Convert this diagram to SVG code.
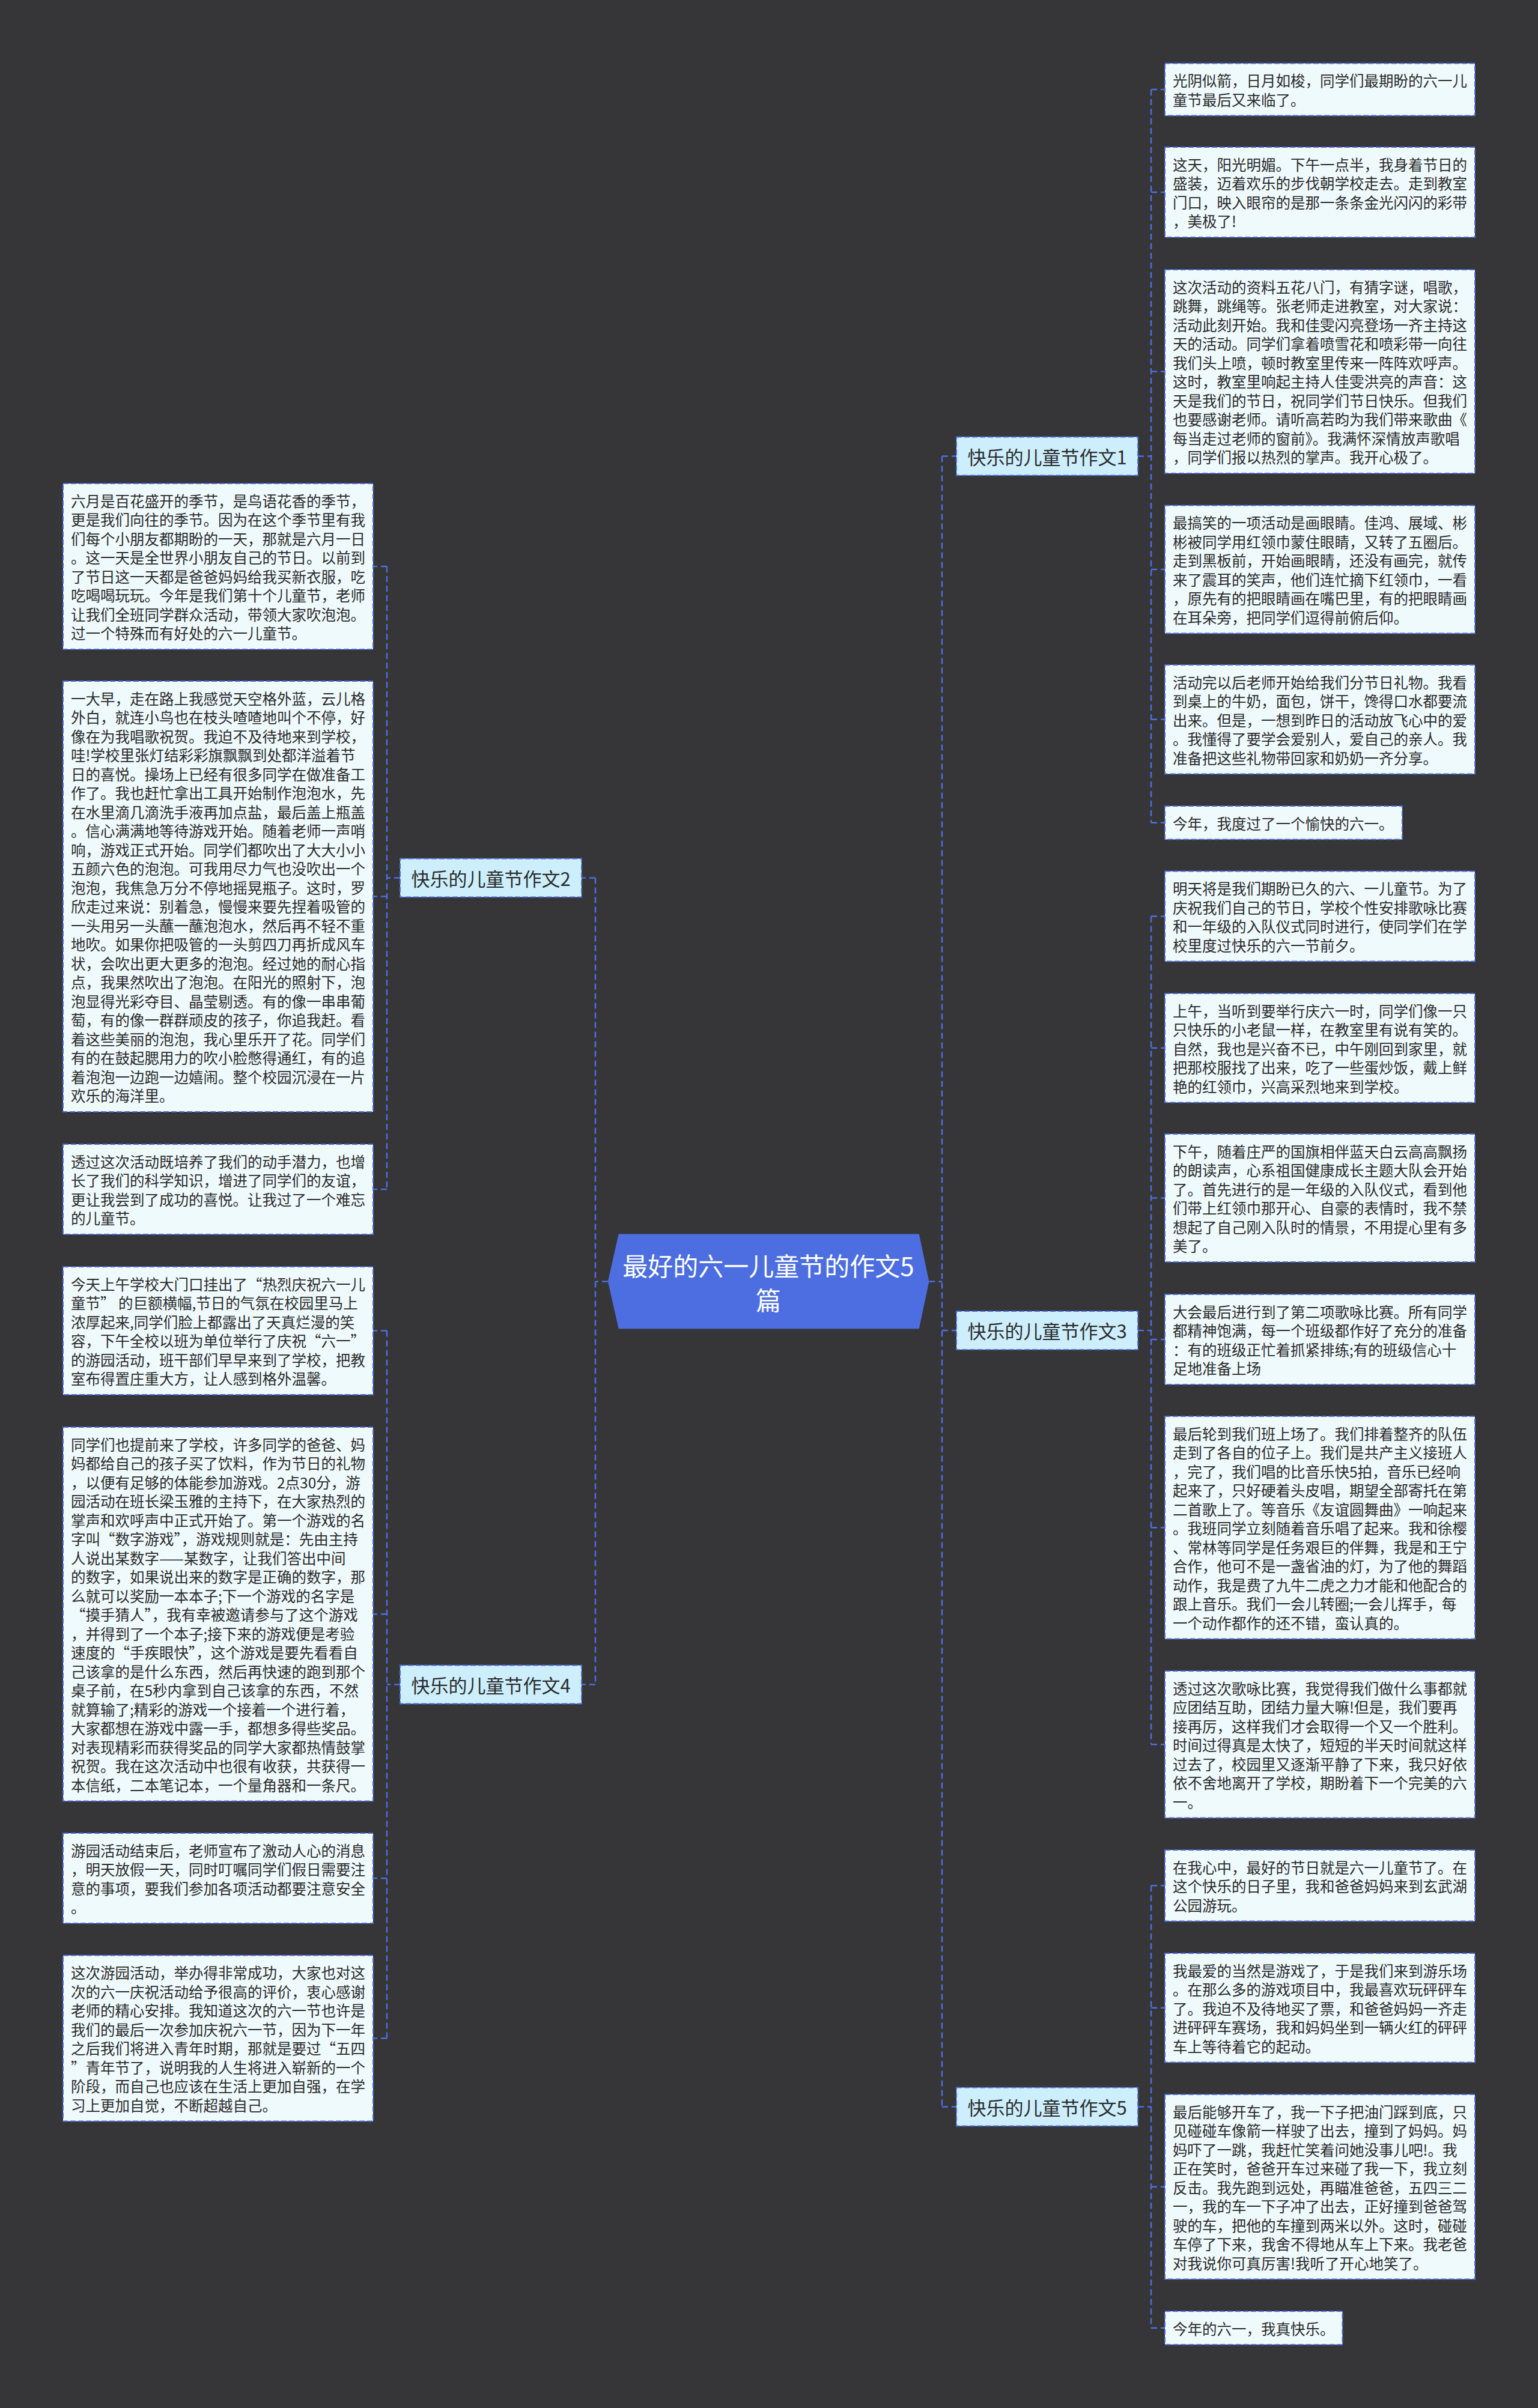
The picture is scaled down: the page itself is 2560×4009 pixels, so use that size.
<svg xmlns="http://www.w3.org/2000/svg" width="2560" height="4009" viewBox="0 0 2560 4009">
<style>
text{font-family:"Noto Sans CJK SC","Noto Sans",sans-serif;dominant-baseline:central}
.leaf rect{fill:#effafd;stroke:#4d6fe0;stroke-width:2;stroke-dasharray:9 4}
.leaf text{font-size:24.5px;fill:#2b2b2b}
.br rect{fill:#cdeffd;stroke:#4d6fe0;stroke-width:2;stroke-dasharray:9 4}
.br text{font-size:31px;fill:#2b2b2b;text-anchor:middle}
.conn path{fill:none;stroke:#4d6fe0;stroke-width:2.5;stroke-dasharray:10 6}
</style>
<rect width="2560" height="4009" fill="#363537"/>
<g class="conn" id="connectors">
<path d="M1546.4 2133.6H1568M1568 759.4V3507.5M1568 759.4H1592M1568 2214.9H1592M1568 3507.5H1592"/>
<path d="M1894 759.4H1916M1916 149V1369.75M1916 149H1939M1916 320H1939M1916 618.5H1939M1916 948H1939M1916 1197.75H1939M1916 1369.75H1939"/>
<path d="M1894 2214.9H1916M1916 1525.5V2904.25M1916 1525.5H1939M1916 1744.75H1939M1916 1994.5H1939M1916 2230H1939M1916 2543.25H1939M1916 2904.25H1939"/>
<path d="M1894 3507.5H1916M1916 3139.25V3875.75M1916 3139.25H1939M1916 3342.75H1939M1916 3640.75H1939M1916 3875.75H1939"/>
<path d="M1011.9 2133.6H991M991 1461.5V2804.5M991 1461.5H968M991 2804.5H968"/>
<path d="M666 1461.5H644M644 943V1980M644 943H621M644 1492.5H621M644 1980H621"/>
<path d="M666 2804.5H644M644 2215.5V3393.5M644 2215.5H621M644 2687.25H621M644 3127H621M644 3393.5H621"/>
</g>
<g id="center">
<polygon points="1029.7,2054.4 1529.8,2054.4 1546.4,2133.6 1529.8,2212.2 1029.7,2212.2 1011.9,2133.6" fill="#4c6ee0"/>
<text font-size="42" fill="#ffffff" text-anchor="middle"><tspan x="1279" y="2104.5">最好的六一儿童节的作文5</tspan><tspan x="1279" y="2161.5">篇</tspan></text>
</g>
<g class="br" id="b1" transform="translate(1592,727.4)"><rect width="302" height="64"/><text x="151" y="32">快乐的儿童节作文1</text></g>
<g class="br" id="b3" transform="translate(1592,2182.9)"><rect width="302" height="64"/><text x="151" y="32">快乐的儿童节作文3</text></g>
<g class="br" id="b5" transform="translate(1592,3475.5)"><rect width="302" height="64"/><text x="151" y="32">快乐的儿童节作文5</text></g>
<g class="br" id="b2" transform="translate(666,1429.5)"><rect width="302" height="64"/><text x="151" y="32">快乐的儿童节作文2</text></g>
<g class="br" id="b4" transform="translate(666,2772.5)"><rect width="302" height="64"/><text x="151" y="32">快乐的儿童节作文4</text></g>

<g class="leaf" id="r1" transform="translate(1939,105.5)"><rect width="516" height="87"/><text>
<tspan x="13" y="27.75">光阴似箭，日月如梭，同学们最期盼的六一儿</tspan>
<tspan x="13" y="59.25">童节最后又来临了。</tspan></text></g>
<g class="leaf" id="r2" transform="translate(1939,245)"><rect width="516" height="150"/><text>
<tspan x="13" y="27.75">这天，阳光明媚。下午一点半，我身着节日的</tspan>
<tspan x="13" y="59.25">盛装，迈着欢乐的步伐朝学校走去。走到教室</tspan>
<tspan x="13" y="90.75">门口，映入眼帘的是那一条条金光闪闪的彩带</tspan>
<tspan x="13" y="122.25">，美极了!</tspan></text></g>
<g class="leaf" id="r3" transform="translate(1939,449)"><rect width="516" height="339"/><text>
<tspan x="13" y="27.75">这次活动的资料五花八门，有猜字谜，唱歌，</tspan>
<tspan x="13" y="59.25">跳舞，跳绳等。张老师走进教室，对大家说：</tspan>
<tspan x="13" y="90.75">活动此刻开始。我和佳雯闪亮登场一齐主持这</tspan>
<tspan x="13" y="122.25">天的活动。同学们拿着喷雪花和喷彩带一向往</tspan>
<tspan x="13" y="153.75">我们头上喷，顿时教室里传来一阵阵欢呼声。</tspan>
<tspan x="13" y="185.25">这时，教室里响起主持人佳雯洪亮的声音：这</tspan>
<tspan x="13" y="216.75">天是我们的节日，祝同学们节日快乐。但我们</tspan>
<tspan x="13" y="248.25">也要感谢老师。请听高若昀为我们带来歌曲《</tspan>
<tspan x="13" y="279.75">每当走过老师的窗前》。我满怀深情放声歌唱</tspan>
<tspan x="13" y="311.25">，同学们报以热烈的掌声。我开心极了。</tspan></text></g>
<g class="leaf" id="r4" transform="translate(1939,841.5)"><rect width="516" height="213"/><text>
<tspan x="13" y="27.75">最搞笑的一项活动是画眼睛。佳鸿、展域、彬</tspan>
<tspan x="13" y="59.25">彬被同学用红领巾蒙住眼睛，又转了五圈后。</tspan>
<tspan x="13" y="90.75">走到黑板前，开始画眼睛，还没有画完，就传</tspan>
<tspan x="13" y="122.25">来了震耳的笑声，他们连忙摘下红领巾，一看</tspan>
<tspan x="13" y="153.75">，原先有的把眼睛画在嘴巴里，有的把眼睛画</tspan>
<tspan x="13" y="185.25">在耳朵旁，把同学们逗得前俯后仰。</tspan></text></g>
<g class="leaf" id="r5" transform="translate(1939,1107)"><rect width="516" height="181.5"/><text>
<tspan x="13" y="27.75">活动完以后老师开始给我们分节日礼物。我看</tspan>
<tspan x="13" y="59.25">到桌上的牛奶，面包，饼干，馋得口水都要流</tspan>
<tspan x="13" y="90.75">出来。但是，一想到昨日的活动放飞心中的爱</tspan>
<tspan x="13" y="122.25">。我懂得了要学会爱别人，爱自己的亲人。我</tspan>
<tspan x="13" y="153.75">准备把这些礼物带回家和奶奶一齐分享。</tspan></text></g>
<g class="leaf" id="r6" transform="translate(1939,1342)"><rect width="395" height="55.5"/><text>
<tspan x="13" y="27.75">今年，我度过了一个愉快的六一。</tspan></text></g>
<g class="leaf" id="r7" transform="translate(1939,1450.5)"><rect width="516" height="150"/><text>
<tspan x="13" y="27.75">明天将是我们期盼已久的六、一儿童节。为了</tspan>
<tspan x="13" y="59.25">庆祝我们自己的节日，学校个性安排歌咏比赛</tspan>
<tspan x="13" y="90.75">和一年级的入队仪式同时进行，使同学们在学</tspan>
<tspan x="13" y="122.25">校里度过快乐的六一节前夕。</tspan></text></g>
<g class="leaf" id="r8" transform="translate(1939,1654)"><rect width="516" height="181.5"/><text>
<tspan x="13" y="27.75">上午，当听到要举行庆六一时，同学们像一只</tspan>
<tspan x="13" y="59.25">只快乐的小老鼠一样，在教室里有说有笑的。</tspan>
<tspan x="13" y="90.75">自然，我也是兴奋不已，中午刚回到家里，就</tspan>
<tspan x="13" y="122.25">把那校服找了出来，吃了一些蛋炒饭，戴上鲜</tspan>
<tspan x="13" y="153.75">艳的红领巾，兴高采烈地来到学校。</tspan></text></g>
<g class="leaf" id="r9" transform="translate(1939,1888)"><rect width="516" height="213"/><text>
<tspan x="13" y="27.75">下午，随着庄严的国旗相伴蓝天白云高高飘扬</tspan>
<tspan x="13" y="59.25">的朗读声，心系祖国健康成长主题大队会开始</tspan>
<tspan x="13" y="90.75">了。首先进行的是一年级的入队仪式，看到他</tspan>
<tspan x="13" y="122.25">们带上红领巾那开心、自豪的表情时，我不禁</tspan>
<tspan x="13" y="153.75">想起了自己刚入队时的情景，不用提心里有多</tspan>
<tspan x="13" y="185.25">美了。</tspan></text></g>
<g class="leaf" id="r10" transform="translate(1939,2155)"><rect width="516" height="150"/><text>
<tspan x="13" y="27.75">大会最后进行到了第二项歌咏比赛。所有同学</tspan>
<tspan x="13" y="59.25">都精神饱满，每一个班级都作好了充分的准备</tspan>
<tspan x="13" y="90.75">：有的班级正忙着抓紧排练;有的班级信心十</tspan>
<tspan x="13" y="122.25">足地准备上场</tspan></text></g>
<g class="leaf" id="r11" transform="translate(1939,2358)"><rect width="516" height="370.5"/><text>
<tspan x="13" y="27.75">最后轮到我们班上场了。我们排着整齐的队伍</tspan>
<tspan x="13" y="59.25">走到了各自的位子上。我们是共产主义接班人</tspan>
<tspan x="13" y="90.75">，完了，我们唱的比音乐快5拍，音乐已经响</tspan>
<tspan x="13" y="122.25">起来了，只好硬着头皮唱，期望全部寄托在第</tspan>
<tspan x="13" y="153.75">二首歌上了。等音乐《友谊圆舞曲》一响起来</tspan>
<tspan x="13" y="185.25">。我班同学立刻随着音乐唱了起来。我和徐樱</tspan>
<tspan x="13" y="216.75">、常林等同学是任务艰巨的伴舞，我是和王宁</tspan>
<tspan x="13" y="248.25">合作，他可不是一盏省油的灯，为了他的舞蹈</tspan>
<tspan x="13" y="279.75">动作，我是费了九牛二虎之力才能和他配合的</tspan>
<tspan x="13" y="311.25">跟上音乐。我们一会儿转圈;一会儿挥手，每</tspan>
<tspan x="13" y="342.75">一个动作都作的还不错，蛮认真的。</tspan></text></g>
<g class="leaf" id="r12" transform="translate(1939,2782)"><rect width="516" height="244.5"/><text>
<tspan x="13" y="27.75">透过这次歌咏比赛，我觉得我们做什么事都就</tspan>
<tspan x="13" y="59.25">应团结互助，团结力量大嘛!但是，我们要再</tspan>
<tspan x="13" y="90.75">接再厉，这样我们才会取得一个又一个胜利。</tspan>
<tspan x="13" y="122.25">时间过得真是太快了，短短的半天时间就这样</tspan>
<tspan x="13" y="153.75">过去了，校园里又逐渐平静了下来，我只好依</tspan>
<tspan x="13" y="185.25">依不舍地离开了学校，期盼着下一个完美的六</tspan>
<tspan x="13" y="216.75">一。</tspan></text></g>
<g class="leaf" id="r13" transform="translate(1939,3080)"><rect width="516" height="118.5"/><text>
<tspan x="13" y="27.75">在我心中，最好的节日就是六一儿童节了。在</tspan>
<tspan x="13" y="59.25">这个快乐的日子里，我和爸爸妈妈来到玄武湖</tspan>
<tspan x="13" y="90.75">公园游玩。</tspan></text></g>
<g class="leaf" id="r14" transform="translate(1939,3252)"><rect width="516" height="181.5"/><text>
<tspan x="13" y="27.75">我最爱的当然是游戏了，于是我们来到游乐场</tspan>
<tspan x="13" y="59.25">。在那么多的游戏项目中，我最喜欢玩砰砰车</tspan>
<tspan x="13" y="90.75">了。我迫不及待地买了票，和爸爸妈妈一齐走</tspan>
<tspan x="13" y="122.25">进砰砰车赛场，我和妈妈坐到一辆火红的砰砰</tspan>
<tspan x="13" y="153.75">车上等待着它的起动。</tspan></text></g>
<g class="leaf" id="r15" transform="translate(1939,3487)"><rect width="516" height="307.5"/><text>
<tspan x="13" y="27.75">最后能够开车了，我一下子把油门踩到底，只</tspan>
<tspan x="13" y="59.25">见碰碰车像箭一样驶了出去，撞到了妈妈。妈</tspan>
<tspan x="13" y="90.75">妈吓了一跳，我赶忙笑着问她没事儿吧!。我</tspan>
<tspan x="13" y="122.25">正在笑时，爸爸开车过来碰了我一下，我立刻</tspan>
<tspan x="13" y="153.75">反击。我先跑到远处，再瞄准爸爸，五四三二</tspan>
<tspan x="13" y="185.25">一，我的车一下子冲了出去，正好撞到爸爸驾</tspan>
<tspan x="13" y="216.75">驶的车，把他的车撞到两米以外。这时，碰碰</tspan>
<tspan x="13" y="248.25">车停了下来，我舍不得地从车上下来。我老爸</tspan>
<tspan x="13" y="279.75">对我说你可真厉害!我听了开心地笑了。</tspan></text></g>
<g class="leaf" id="r16" transform="translate(1939,3848)"><rect width="295.5" height="55.5"/><text>
<tspan x="13" y="27.75">今年的六一，我真快乐。</tspan></text></g>

<g class="leaf" id="l1" transform="translate(105,805)"><rect width="516" height="276"/><text>
<tspan x="13" y="27.75">六月是百花盛开的季节，是鸟语花香的季节，</tspan>
<tspan x="13" y="59.25">更是我们向往的季节。因为在这个季节里有我</tspan>
<tspan x="13" y="90.75">们每个小朋友都期盼的一天，那就是六月一日</tspan>
<tspan x="13" y="122.25">。这一天是全世界小朋友自己的节日。以前到</tspan>
<tspan x="13" y="153.75">了节日这一天都是爸爸妈妈给我买新衣服，吃</tspan>
<tspan x="13" y="185.25">吃喝喝玩玩。今年是我们第十个儿童节，老师</tspan>
<tspan x="13" y="216.75">让我们全班同学群众活动，带领大家吹泡泡。</tspan>
<tspan x="13" y="248.25">过一个特殊而有好处的六一儿童节。</tspan></text></g>
<g class="leaf" id="l2" transform="translate(105,1134)"><rect width="516" height="717"/><text>
<tspan x="13" y="27.75">一大早，走在路上我感觉天空格外蓝，云儿格</tspan>
<tspan x="13" y="59.25">外白，就连小鸟也在枝头喳喳地叫个不停，好</tspan>
<tspan x="13" y="90.75">像在为我唱歌祝贺。我迫不及待地来到学校，</tspan>
<tspan x="13" y="122.25">哇!学校里张灯结彩彩旗飘飘到处都洋溢着节</tspan>
<tspan x="13" y="153.75">日的喜悦。操场上已经有很多同学在做准备工</tspan>
<tspan x="13" y="185.25">作了。我也赶忙拿出工具开始制作泡泡水，先</tspan>
<tspan x="13" y="216.75">在水里滴几滴洗手液再加点盐，最后盖上瓶盖</tspan>
<tspan x="13" y="248.25">。信心满满地等待游戏开始。随着老师一声哨</tspan>
<tspan x="13" y="279.75">响，游戏正式开始。同学们都吹出了大大小小</tspan>
<tspan x="13" y="311.25">五颜六色的泡泡。可我用尽力气也没吹出一个</tspan>
<tspan x="13" y="342.75">泡泡，我焦急万分不停地摇晃瓶子。这时，罗</tspan>
<tspan x="13" y="374.25">欣走过来说：别着急，慢慢来要先捏着吸管的</tspan>
<tspan x="13" y="405.75">一头用另一头蘸一蘸泡泡水，然后再不轻不重</tspan>
<tspan x="13" y="437.25">地吹。如果你把吸管的一头剪四刀再折成风车</tspan>
<tspan x="13" y="468.75">状，会吹出更大更多的泡泡。经过她的耐心指</tspan>
<tspan x="13" y="500.25">点，我果然吹出了泡泡。在阳光的照射下，泡</tspan>
<tspan x="13" y="531.75">泡显得光彩夺目、晶莹剔透。有的像一串串葡</tspan>
<tspan x="13" y="563.25">萄，有的像一群群顽皮的孩子，你追我赶。看</tspan>
<tspan x="13" y="594.75">着这些美丽的泡泡，我心里乐开了花。同学们</tspan>
<tspan x="13" y="626.25">有的在鼓起腮用力的吹小脸憋得通红，有的追</tspan>
<tspan x="13" y="657.75">着泡泡一边跑一边嬉闹。整个校园沉浸在一片</tspan>
<tspan x="13" y="689.25">欢乐的海洋里。</tspan></text></g>
<g class="leaf" id="l3" transform="translate(105,1905)"><rect width="516" height="150"/><text>
<tspan x="13" y="27.75">透过这次活动既培养了我们的动手潜力，也增</tspan>
<tspan x="13" y="59.25">长了我们的科学知识，增进了同学们的友谊，</tspan>
<tspan x="13" y="90.75">更让我尝到了成功的喜悦。让我过了一个难忘</tspan>
<tspan x="13" y="122.25">的儿童节。</tspan></text></g>
<g class="leaf" id="l4" transform="translate(105,2109)"><rect width="516" height="213"/><text>
<tspan x="13" y="27.75">今天上午学校大门口挂出了“热烈庆祝六一儿</tspan>
<tspan x="13" y="59.25">童节” 的巨额横幅,节日的气氛在校园里马上</tspan>
<tspan x="13" y="90.75">浓厚起来,同学们脸上都露出了天真烂漫的笑</tspan>
<tspan x="13" y="122.25">容，下午全校以班为单位举行了庆祝“六一”</tspan>
<tspan x="13" y="153.75">的游园活动，班干部们早早来到了学校，把教</tspan>
<tspan x="13" y="185.25">室布得置庄重大方，让人感到格外温馨。</tspan></text></g>
<g class="leaf" id="l5" transform="translate(105,2376)"><rect width="516" height="622.5"/><text>
<tspan x="13" y="27.75">同学们也提前来了学校，许多同学的爸爸、妈</tspan>
<tspan x="13" y="59.25">妈都给自己的孩子买了饮料，作为节日的礼物</tspan>
<tspan x="13" y="90.75">，以便有足够的体能参加游戏。2点30分，游</tspan>
<tspan x="13" y="122.25">园活动在班长梁玉雅的主持下，在大家热烈的</tspan>
<tspan x="13" y="153.75">掌声和欢呼声中正式开始了。第一个游戏的名</tspan>
<tspan x="13" y="185.25">字叫“数字游戏”，游戏规则就是：先由主持</tspan>
<tspan x="13" y="216.75">人说出某数字——某数字，让我们答出中间</tspan>
<tspan x="13" y="248.25">的数字，如果说出来的数字是正确的数字，那</tspan>
<tspan x="13" y="279.75">么就可以奖励一本本子;下一个游戏的名字是</tspan>
<tspan x="13" y="311.25">“摸手猜人”，我有幸被邀请参与了这个游戏</tspan>
<tspan x="13" y="342.75">，并得到了一个本子;接下来的游戏便是考验</tspan>
<tspan x="13" y="374.25">速度的“手疾眼快”，这个游戏是要先看看自</tspan>
<tspan x="13" y="405.75">己该拿的是什么东西，然后再快速的跑到那个</tspan>
<tspan x="13" y="437.25">桌子前，在5秒内拿到自己该拿的东西，不然</tspan>
<tspan x="13" y="468.75">就算输了;精彩的游戏一个接着一个进行着，</tspan>
<tspan x="13" y="500.25">大家都想在游戏中露一手，都想多得些奖品。</tspan>
<tspan x="13" y="531.75">对表现精彩而获得奖品的同学大家都热情鼓掌</tspan>
<tspan x="13" y="563.25">祝贺。我在这次活动中也很有收获，共获得一</tspan>
<tspan x="13" y="594.75">本信纸，二本笔记本，一个量角器和一条尺。</tspan></text></g>
<g class="leaf" id="l6" transform="translate(105,3052)"><rect width="516" height="150"/><text>
<tspan x="13" y="27.75">游园活动结束后，老师宣布了激动人心的消息</tspan>
<tspan x="13" y="59.25">，明天放假一天，同时叮嘱同学们假日需要注</tspan>
<tspan x="13" y="90.75">意的事项，要我们参加各项活动都要注意安全</tspan>
<tspan x="13" y="122.25">。</tspan></text></g>
<g class="leaf" id="l7" transform="translate(105,3255.5)"><rect width="516" height="276"/><text>
<tspan x="13" y="27.75">这次游园活动，举办得非常成功，大家也对这</tspan>
<tspan x="13" y="59.25">次的六一庆祝活动给予很高的评价，衷心感谢</tspan>
<tspan x="13" y="90.75">老师的精心安排。我知道这次的六一节也许是</tspan>
<tspan x="13" y="122.25">我们的最后一次参加庆祝六一节，因为下一年</tspan>
<tspan x="13" y="153.75">之后我们将进入青年时期，那就是要过“五四</tspan>
<tspan x="13" y="185.25">”青年节了，说明我的人生将进入崭新的一个</tspan>
<tspan x="13" y="216.75">阶段，而自己也应该在生活上更加自强，在学</tspan>
<tspan x="13" y="248.25">习上更加自觉，不断超越自己。</tspan></text></g>
</svg>
